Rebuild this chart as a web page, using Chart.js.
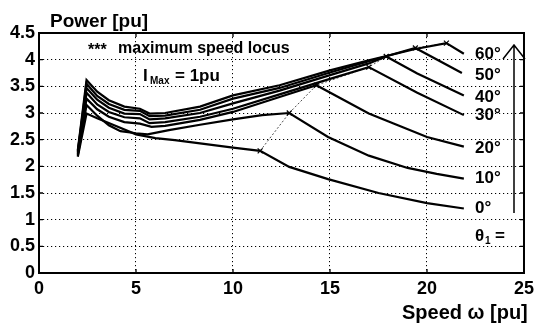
<!DOCTYPE html>
<html><head><meta charset="utf-8">
<script src="https://cdn.jsdelivr.net/npm/chart.js@4/dist/chart.umd.min.js"></script>
<style>html,body{margin:0;padding:0;background:#fff;}#wrap{width:539px;height:327px;}</style>
</head><body><div id="wrap"><canvas id="c" width="539" height="327"></canvas></div>
<script>
// ---- data ----
const xTicks = [0, 5, 10, 15, 20, 25];
const yTicks = [0, 0.5, 1, 1.5, 2, 2.5, 3, 3.5, 4, 4.5];
const yTickLabels = ['0', '0.5', '1', '1.5', '2', '2.5', '3', '3.5', '4', '4.5'];
const thetaLabels = ['0°', '10°', '20°', '30°', '40°', '50°', '60°'];

const speed0 = [2.0, 2.45, 3.0, 4.0, 5.0, 6.0, 7.0, 8.3, 10.0, 11.4, 12.9, 14.9, 17.5, 20.0, 21.9];
const power0 = [2.18, 2.99, 2.90, 2.75, 2.60, 2.53, 2.49, 2.43, 2.35, 2.29, 1.99, 1.76, 1.50, 1.31, 1.21];

const speed10 = [2.0, 2.45, 3.0, 3.6, 4.2, 5.0, 5.6, 6.7, 8.3, 10.0, 11.5, 12.9, 14.9, 17.0, 19.0, 20.5, 21.9];
const power10 = [2.20, 3.15, 2.95, 2.77, 2.66, 2.62, 2.60, 2.68, 2.78, 2.88, 2.96, 3.00, 2.55, 2.20, 1.97, 1.86, 1.77];

const speed20 = [2.0, 2.45, 3.0, 3.6, 4.4, 5.2, 5.8, 6.5, 8.3, 10.0, 12.4, 14.3, 17.0, 20.0, 21.9];
const power20 = [2.22, 3.27, 3.07, 2.93, 2.83, 2.80, 2.74, 2.76, 2.87, 3.02, 3.30, 3.52, 2.99, 2.55, 2.37];

const speed30 = [2.0, 2.45, 3.0, 3.6, 4.4, 5.2, 5.7, 6.5, 8.3, 10.0, 12.4, 15.0, 17.0, 19.5, 21.9];
const power30 = [2.24, 3.38, 3.16, 3.02, 2.92, 2.90, 2.81, 2.83, 2.93, 3.08, 3.35, 3.64, 3.86, 3.38, 2.96];

const speed40 = [2.0, 2.45, 3.0, 3.6, 4.4, 5.2, 5.7, 6.5, 8.3, 10.0, 12.4, 15.0, 17.0, 17.9, 19.5, 21.9];
const power40 = [2.26, 3.47, 3.25, 3.10, 2.99, 2.98, 2.88, 2.90, 3.00, 3.18, 3.42, 3.71, 3.93, 4.06, 3.74, 3.33];

const speed50 = [2.0, 2.45, 3.0, 3.6, 4.4, 5.2, 5.7, 6.5, 8.3, 10.0, 12.4, 15.0, 17.0, 19.4, 21.8];
const power50 = [2.28, 3.55, 3.32, 3.17, 3.06, 3.04, 2.94, 2.95, 3.06, 3.27, 3.47, 3.76, 3.97, 4.22, 3.75];

const speed60 = [2.0, 2.45, 3.0, 3.6, 4.4, 5.2, 5.7, 6.5, 8.3, 10.0, 12.4, 15.0, 17.0, 19.4, 21.0, 21.9];
const power60 = [2.30, 3.62, 3.40, 3.24, 3.12, 3.08, 2.99, 3.00, 3.12, 3.33, 3.52, 3.80, 3.99, 4.20, 4.31, 4.11];

const locusSpeed = [11.4, 12.9, 14.3, 17.0, 17.9, 19.4, 21.0];
const locusPower = [2.29, 3.00, 3.52, 3.86, 4.06, 4.22, 4.31];

// ---- build ----
const speeds = [speed0, speed10, speed20, speed30, speed40, speed50, speed60];
const powers = [power0, power10, power20, power30, power40, power50, power60];
const pts = (xs, ys) => xs.map((x, i) => ({x: x, y: ys[i]}));

const datasets = speeds.map((s, i) => ({
  label: thetaLabels[i],
  data: pts(s, powers[i]),
  showLine: true,
  borderColor: '#000',
  borderWidth: 2.2,
  pointRadius: 0,
  tension: 0,
  fill: false
}));
datasets.push({
  label: 'locus',
  data: pts(locusSpeed, locusPower),
  showLine: true,
  borderColor: '#222',
  borderWidth: 0.8,
  borderDash: [2, 2],
  pointStyle: 'crossRot',
  pointRadius: 3.5,
  pointBorderWidth: 1.2,
  pointBorderColor: '#000',
  tension: 0
});

const FONT = '"Liberation Sans", Arial, Helvetica, sans-serif';

const deco = {
  id: 'deco',
  afterDraw(chart) {
    const ctx = chart.ctx, a = chart.chartArea;
    const xs = chart.scales.x, ys = chart.scales.y;
    ctx.save();
    // box
    ctx.strokeStyle = '#000';
    ctx.lineWidth = 2;
    ctx.strokeRect(a.left, a.top, a.right - a.left, a.bottom - a.top);
    // inward ticks
    ctx.lineWidth = 1.3;
    ctx.beginPath();
    xTicks.forEach(v => {
      const p = xs.getPixelForValue(v);
      ctx.moveTo(p, a.bottom); ctx.lineTo(p, a.bottom - 4);
      ctx.moveTo(p, a.top); ctx.lineTo(p, a.top + 4);
    });
    yTicks.forEach(v => {
      const p = ys.getPixelForValue(v);
      ctx.moveTo(a.left, p); ctx.lineTo(a.left + 4, p);
      ctx.moveTo(a.right, p); ctx.lineTo(a.right - 4, p);
    });
    ctx.stroke();

    ctx.fillStyle = '#000';
    ctx.textBaseline = 'alphabetic';
    ctx.textAlign = 'left';
    // axis titles
    ctx.font = 'bold 19px ' + FONT;
    ctx.fillText('Power [pu]', 50, 27);
    ctx.font = 'bold 20px ' + FONT;
    ctx.fillText('Speed \u03C9 [pu]', 402, 319);
    // legend text
    ctx.font = 'bold 16px ' + FONT;
    ctx.fillText('***', 88, 55);
    ctx.fillText('maximum speed locus', 118, 53);
    ctx.font = 'bold 17px ' + FONT;
    ctx.fillText('I', 143, 81);
    ctx.font = 'bold 10px ' + FONT;
    ctx.fillText('Max', 150, 84);
    ctx.font = 'bold 17px ' + FONT;
    ctx.fillText('= 1pu', 175, 81);
    // angle labels
    const labY = [208, 178.5, 148, 115, 97, 75, 54];
    ctx.textBaseline = 'middle';
    ctx.font = 'bold 17px ' + FONT;
    thetaLabels.forEach((t, i) => ctx.fillText(t, 475, labY[i]));
    ctx.fillText('\u03B8', 475, 236);
    ctx.font = 'bold 10px ' + FONT;
    ctx.fillText('1', 485, 241);
    ctx.font = 'bold 17px ' + FONT;
    ctx.fillText('=', 495, 236);
    // arrow
    ctx.lineWidth = 1.5;
    ctx.beginPath();
    ctx.moveTo(514, 213); ctx.lineTo(514, 45);
    ctx.moveTo(503, 59); ctx.lineTo(514, 45); ctx.lineTo(525, 59);
    ctx.stroke();
    ctx.restore();
  }
};

new Chart(document.getElementById('c'), {
  type: 'scatter',
  data: {datasets: datasets},
  options: {
    responsive: false,
    devicePixelRatio: 1,
    animation: false,
    layout: {padding: {left: 0, right: 13, top: 33, bottom: 0}},
    plugins: {legend: {display: false}, tooltip: {enabled: false}},
    scales: {
      x: {
        type: 'linear', min: 0, max: 25,
        afterFit: s => { s.height = 54; },
        afterBuildTicks: s => { s.ticks = xTicks.map(v => ({value: v})); },
        grid: {color: '#000', lineWidth: 1, drawTicks: false},
        border: {display: false, dash: [1.2, 2.8]},
        ticks: {color: '#000', padding: 5, font: {family: FONT, size: 18, weight: 'bold'}, maxRotation: 0,
                callback: v => String(v)}
      },
      y: {
        type: 'linear', min: 0, max: 4.5,
        afterFit: s => { s.width = 39; },
        afterBuildTicks: s => { s.ticks = yTicks.map(v => ({value: v})); },
        grid: {color: '#000', lineWidth: 1, drawTicks: false},
        border: {display: false, dash: [1.2, 2.8]},
        ticks: {color: '#000', padding: 4, font: {family: FONT, size: 18, weight: 'bold'},
                callback: v => yTickLabels[yTicks.indexOf(v)]}
      }
    }
  },
  plugins: [deco]
});
</script>
</body></html>
